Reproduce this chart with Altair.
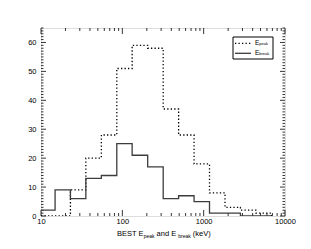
import altair as alt
import pandas as pd

# ---- data ----
edges = [10, 14.9, 23.0, 35.6, 55.2, 85.5, 132, 205, 318, 492, 762, 1180, 1830, 2830, 4390, 6790]
peak_counts = [0, 0, 9, 20, 28, 51, 59, 58, 37, 28, 18, 8, 3, 2, 1]
break_counts = [2, 9, 6, 13, 14, 25, 21, 17, 6, 7, 5, 1, 1, 0, 0]

x_major = [10, 100, 1000, 10000]
x_minor = [20, 30, 40, 50, 60, 70, 80, 90,
           200, 300, 400, 500, 600, 700, 800, 900,
           2000, 3000, 4000, 5000, 6000, 7000, 8000, 9000]
y_major = [0, 10, 20, 30, 40, 50, 60]
y_minor = [v for v in range(0, 66) if v % 10 != 0]

W, H = 244, 188
FONT = "Liberation Sans"

xscale = alt.Scale(type="log", domain=[10, 10000], nice=False)
yscale = alt.Scale(domain=[0, 65], nice=False, zero=False)
xaxis = alt.Axis(values=x_major, format="d", ticks=False, domain=False, grid=False,
                 labelFontSize=7.5, labelPadding=1, labelFont=FONT, labelColor="black",
                 title=None, labelFlush=False)
yaxis = alt.Axis(values=y_major, ticks=False, domain=False, grid=False,
                 labelFontSize=7.5, labelPadding=5, labelFont=FONT, labelColor="black",
                 title=None)


def step_df(counts):
    xs = list(edges)
    ys = list(counts) + [0]
    return pd.DataFrame({"x": xs, "y": ys})


peak_line = alt.Chart(step_df(peak_counts)).mark_line(
    interpolate="step-after", color="black", strokeWidth=1.3, strokeDash=[1.3, 2.2], clip=True
).encode(x=alt.X("x:Q", scale=xscale, axis=xaxis), y=alt.Y("y:Q", scale=yscale, axis=yaxis))

break_line = alt.Chart(step_df(break_counts)).mark_line(
    interpolate="step-after", color="#3c3c3c", strokeWidth=1.3, clip=True
).encode(x=alt.X("x:Q", scale=xscale, axis=xaxis), y=alt.Y("y:Q", scale=yscale, axis=yaxis))


# inward ticks on all four sides
def yticks(vals, ln):
    df = pd.DataFrame({"y": vals})
    left = alt.Chart(df).mark_rule(color="black", strokeWidth=0.8).encode(
        y=alt.Y("y:Q", scale=yscale, axis=yaxis), x=alt.value(0), x2=alt.value(ln))
    right = alt.Chart(df).mark_rule(color="black", strokeWidth=0.8).encode(
        y=alt.Y("y:Q", scale=yscale, axis=yaxis), x=alt.value(W), x2=alt.value(W - ln))
    return [left, right]


def xticks(vals, ln):
    df = pd.DataFrame({"x": vals})
    bottom = alt.Chart(df).mark_rule(color="black", strokeWidth=0.8).encode(
        x=alt.X("x:Q", scale=xscale, axis=xaxis), y=alt.value(H), y2=alt.value(H - ln))
    top = alt.Chart(df).mark_rule(color="black", strokeWidth=0.8).encode(
        x=alt.X("x:Q", scale=xscale, axis=xaxis), y=alt.value(0), y2=alt.value(ln))
    return [bottom, top]


tick_layers = yticks(y_major, 5) + yticks(y_minor, 2.5) + xticks(x_major, 6) + xticks(x_minor, 3)

one = pd.DataFrame({"a": [0]})


def txt(s, x, y, size, dy=0):
    return alt.Chart(one).mark_text(
        text=s, align="left", baseline="middle", fontSize=size, font=FONT, color="black", dy=dy
    ).encode(x=alt.value(x), y=alt.value(y))


# axis title with subscripts
TY = 206
title_parts = [
    txt("BEST E", 76, TY, 7.5),
    txt("peak", 102.7, TY, 5, dy=2),
    txt("and E", 115.6, TY, 7.5),
    txt("break", 137.3, TY, 5, dy=2),
    txt("(keV)", 151.8, TY, 7.5),
]

# legend
legend_box = alt.Chart(one).mark_rect(fill="white", stroke="black", strokeWidth=1).encode(
    x=alt.value(192), x2=alt.value(232), y=alt.value(9), y2=alt.value(31))
leg_peak = alt.Chart(one).mark_rule(color="black", strokeWidth=1.3, strokeDash=[1.3, 2.2]).encode(
    x=alt.value(194), x2=alt.value(210), y=alt.value(15.3))
leg_break = alt.Chart(one).mark_rule(color="#3c3c3c", strokeWidth=1.3).encode(
    x=alt.value(194), x2=alt.value(210), y=alt.value(25.3))
legend_parts = [
    legend_box, leg_peak, leg_break,
    txt("E", 214, 14.5, 6.5), txt("peak", 218.3, 14.5, 4, dy=1.8),
    txt("E", 214, 24.5, 6.5), txt("break", 218.3, 24.5, 4, dy=1.8),
]

chart = alt.layer(
    *tick_layers, peak_line, break_line, *title_parts, *legend_parts
).properties(
    width=W, height=H, autosize=alt.AutoSizeParams(type="none"),
    padding={"left": 33, "top": 20, "right": 16, "bottom": 28}
).configure_view(stroke="black", strokeWidth=1).configure(background="white")

chart.save("out.html", embed_options={"renderer": "svg", "actions": False})
